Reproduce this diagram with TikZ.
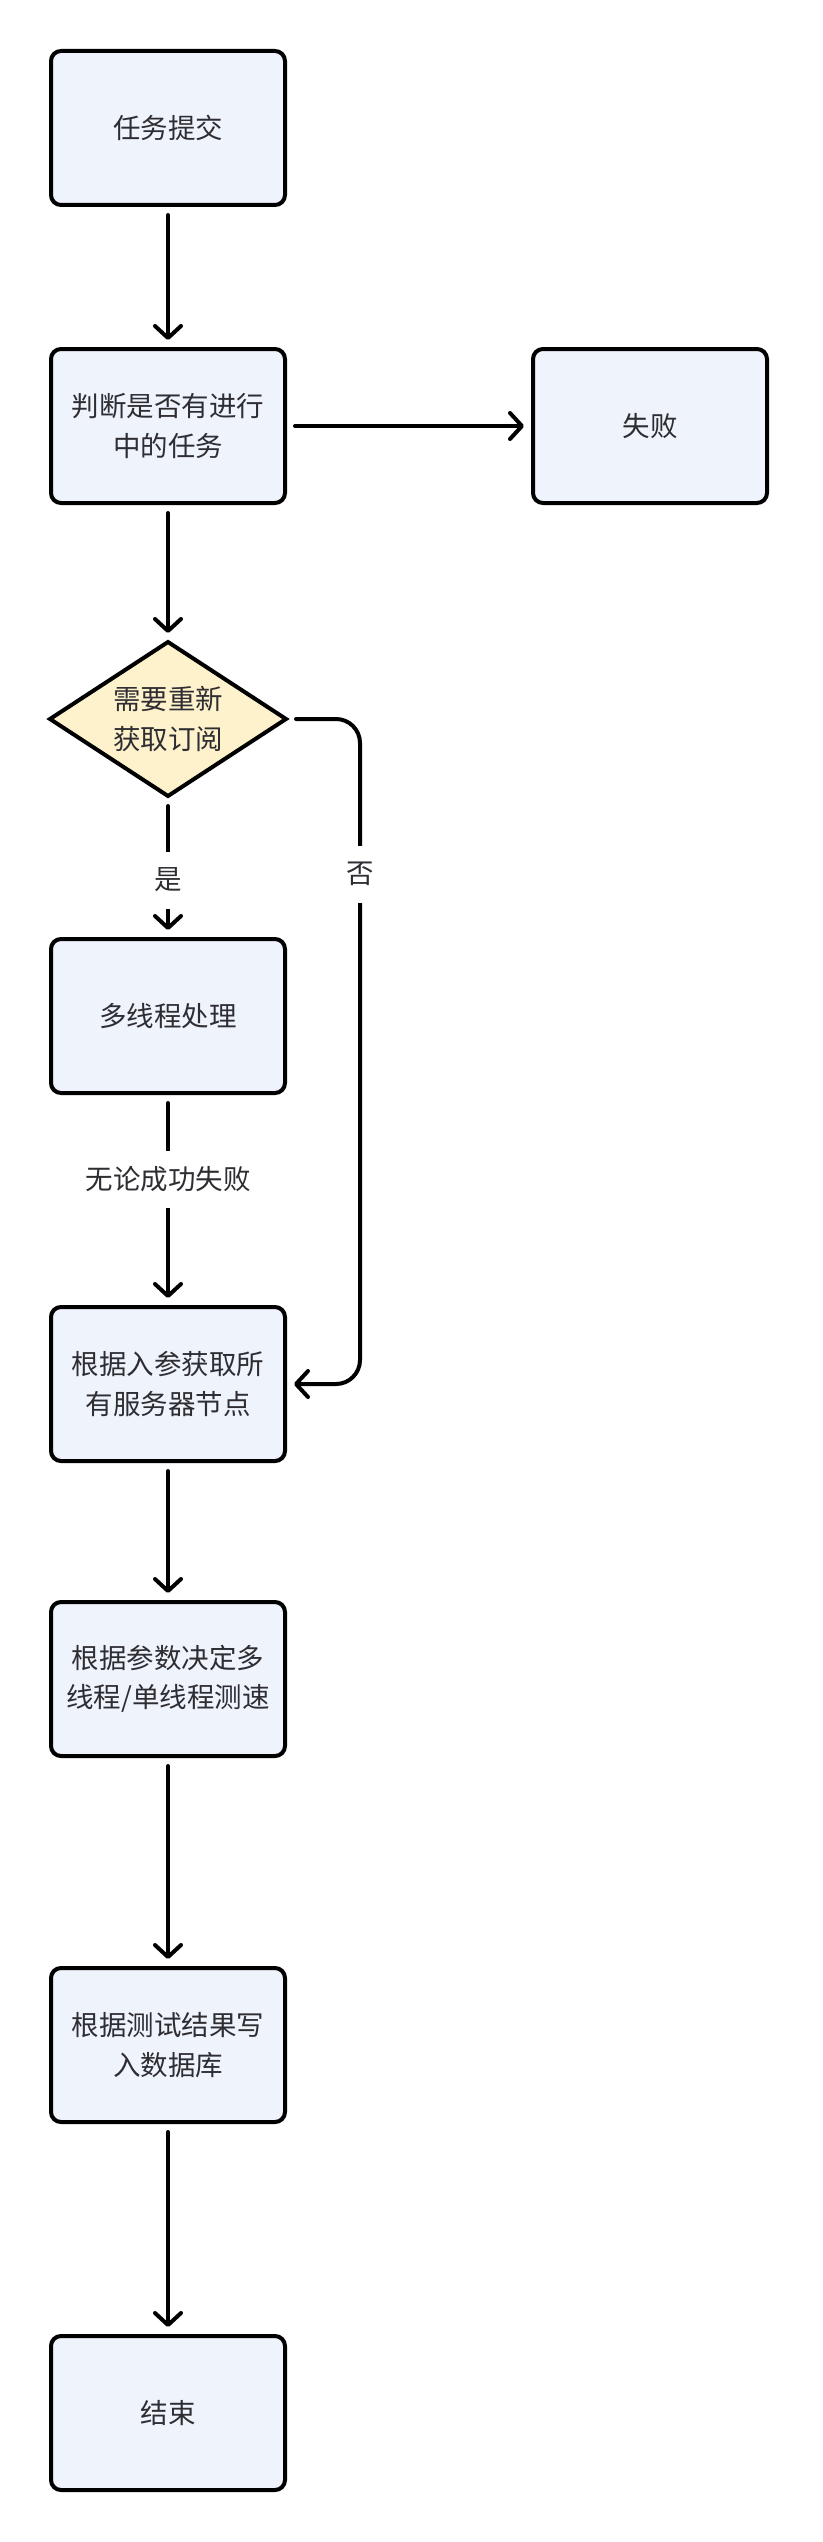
\documentclass[tikz,border=0pt]{standalone}
\usepackage{fontspec}
\newfontfamily\cjk{Noto Sans CJK SC}
\usetikzlibrary{arrows.meta,shapes.geometric}
\definecolor{boxfill}{RGB}{239,243,252}
\definecolor{decfill}{RGB}{254,242,204}
\definecolor{txt}{RGB}{45,45,50}
\begin{document}
\begin{tikzpicture}[x=1pt,y=-1pt,
  font=\cjk\fontsize{27.5pt}{39.5pt}\selectfont,
  stepbox/.style={draw=black, line width=4pt, fill=boxfill, rounded corners=10pt,
    minimum width=234pt, minimum height=154pt, inner sep=0pt, outer sep=0pt,
    align=center, text=txt},
  decision/.style={diamond, draw=black, line width=4pt, fill=decfill,
    minimum width=236pt, minimum height=154pt, aspect=1.53, inner sep=0pt, outer sep=0pt,
    align=center, text=txt},
  arr/.style={draw=black, line width=4pt, line cap=round,
    -{Straight Barb[length=12pt,width=26pt,line cap=round,line join=round]},
    shorten <=10pt, shorten >=9pt},
  lbl/.style={fill=white, text=txt, inner xsep=3pt, inner ysep=0pt, minimum height=57pt}]
\fill[white] (0,0) rectangle (822,2542);
\useasboundingbox (0,0) rectangle (822,2542);

\node[stepbox] (n1) at (168,128) {任务提交};
\node[stepbox] (n2) at (168,426) {判断是否有进行\\中的任务};
\node[stepbox] (fail) at (650,426) {失败};
\node[decision] (d) at (168,719) {需要重新\\获取订阅};
\node[stepbox] (n3) at (168,1016) {多线程处理};
\node[stepbox] (n4) at (168,1384) {根据入参获取所\\有服务器节点};
\node[stepbox] (n5) at (168,1679) {根据参数决定多\\线程/单线程测速};
\node[stepbox] (n6) at (168,2045) {根据测试结果写\\入数据库};
\node[stepbox] (n7) at (168,2413) {结束};

\coordinate (nox) at (360,0);

\draw[arr] (n1) -- (n2);
\draw[arr] (n2) -- (fail);
\draw[arr] (n2) -- (d);
\draw[arr] (d) -- (n3);
\draw[arr, rounded corners=24pt] (d.east) -| (nox |- n4.east) -- (n4.east);
\draw[arr] (n3) -- (n4);
\draw[arr] (n4) -- (n5);
\draw[arr] (n5) -- (n6);
\draw[arr] (n6) -- (n7);

\node[lbl] (yes) at (168,880) {是};
\node[lbl] (no) at (360,874) {否};
\node[lbl] (always) at (168,1179) {无论成功失败};
\end{tikzpicture}
\end{document}
